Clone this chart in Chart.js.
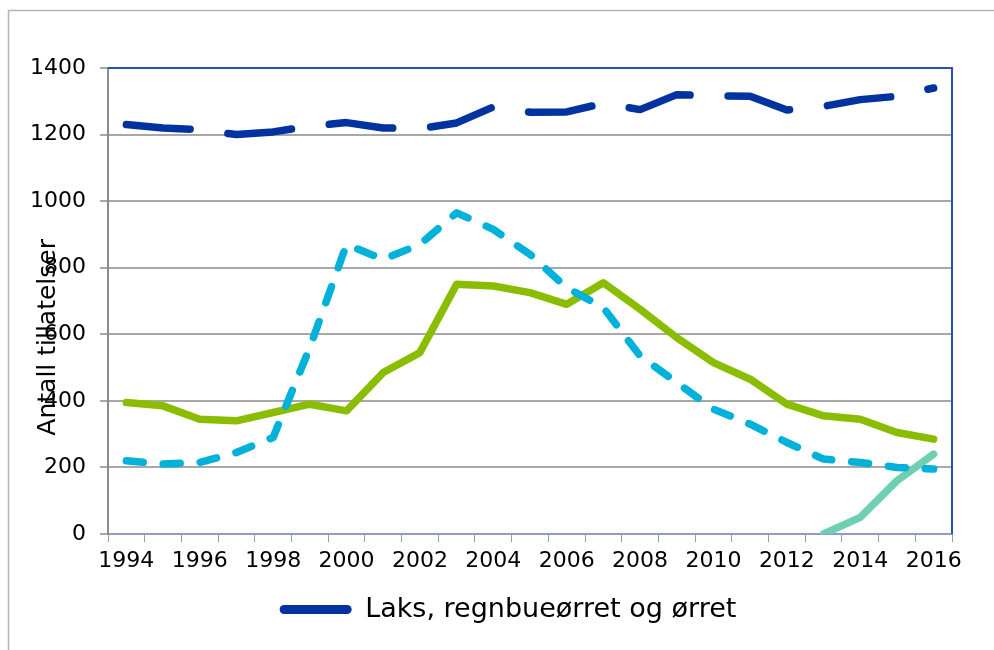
<!DOCTYPE html>
<html>
<head>
<meta charset="utf-8">
<script src="https://cdn.jsdelivr.net/npm/chart.js@4"></script>
<style>
  html, body { margin: 0; padding: 0; background: #fff; }
  #wrap { width: 994px; height: 650px; }
</style>
</head>
<body>
<div id="wrap"><canvas id="graph-tillatelser" width="994" height="650"></canvas></div>
<script>
const years = ['1994','1995','1996','1997','1998','1999','2000','2001','2002','2003','2004','2005',
               '2006','2007','2008','2009','2010','2011','2012','2013','2014','2015','2016'];

const laksRegnbueOrret = [1230, 1220, 1215, 1200, 1208, 1225, 1236, 1220, 1218, 1235, 1283, 1267,
                          1268, 1294, 1275, 1320, 1316, 1315, 1274, 1285, 1305, 1315, 1340];
const serieLysbla = [220, 210, 215, 245, 290, 560, 870, 825, 870, 965, 915, 840,
                     740, 680, 535, 455, 375, 330, 275, 225, 215, 200, 195];
const serieGronn = [395, 385, 345, 340, 365, 390, 370, 485, 545, 750, 745, 725,
                    690, 755, 675, 590, 515, 465, 390, 355, 345, 305, 285];
const serieTurkis = [null, null, null, null, null, null, null, null, null, null, null, null,
                     null, null, null, null, null, null, null, 0, 50, 160, 240];

const yTicks = [0, 200, 400, 600, 800, 1000, 1200, 1400];

// frame around the whole figure, blue border on top/right of the plot, and the y title
const decorations = {
    id: 'decorations',
    afterLayout(chart) {
        // nudge the legend a bit to the right of the canvas centre
        if (chart.legend) chart.legend.left += 64;
    },
    beforeDraw(chart) {
        const ctx = chart.ctx;
        ctx.save();
        ctx.strokeStyle = '#b4b4b4';
        ctx.lineWidth = 1.5;
        ctx.beginPath();
        ctx.moveTo(8.5, chart.height);
        ctx.lineTo(8.5, 10.5);
        ctx.lineTo(chart.width, 10.5);
        ctx.stroke();
        ctx.restore();
    },
    afterDraw(chart) {
        const ctx = chart.ctx;
        const a = chart.chartArea;
        ctx.save();
        ctx.strokeStyle = '#2a4fb8';
        ctx.lineWidth = 2;
        ctx.beginPath();
        ctx.moveTo(a.left, a.top);
        ctx.lineTo(a.right, a.top);
        ctx.lineTo(a.right, a.bottom);
        ctx.stroke();

        ctx.translate(a.left - 60, a.top + (a.bottom - a.top) * 0.578);
        ctx.rotate(-Math.PI / 2);
        ctx.fillStyle = '#000';
        ctx.font = '25px "DejaVu Sans"';
        ctx.textAlign = 'center';
        ctx.textBaseline = 'middle';
        ctx.fillText('Antall tillatelser', 0, 0);
        ctx.restore();
    }
};

const lineBase = {
    borderWidth: 7.5,
    pointRadius: 0,
    tension: 0,
    borderCapStyle: 'round',
    borderJoinStyle: 'round',
    spanGaps: false
};

var ctxTillatelser = document.getElementById('graph-tillatelser').getContext('2d');
var tillatelser = new Chart(ctxTillatelser, {
    type: 'line',
    data: {
        labels: years,
        datasets: [
            Object.assign({}, lineBase, {
                label: 'Laks, regnbueørret og ørret',
                data: laksRegnbueOrret,
                borderColor: '#0033a0',
                backgroundColor: '#0033a0',
                borderDash: [64, 38]
            }),
            Object.assign({}, lineBase, {
                label: 'lysblå',
                data: serieLysbla,
                borderColor: '#00b1da',
                backgroundColor: '#00b1da',
                borderDash: [17, 20]
            }),
            Object.assign({}, lineBase, {
                label: 'grønn',
                data: serieGronn,
                borderColor: '#8abd00',
                backgroundColor: '#8abd00'
            }),
            Object.assign({}, lineBase, {
                label: 'turkis',
                data: serieTurkis,
                borderColor: '#6fcfb2',
                backgroundColor: '#6fcfb2'
            })
        ]
    },
    options: {
        responsive: false,
        animation: false,
        layout: { padding: { left: 0, right: 42, top: 68, bottom: 17 } },
        plugins: {
            tooltip: { enabled: false },
            legend: {
                position: 'bottom',
                labels: {
                    boxWidth: 72,
                    boxHeight: 9,
                    useBorderRadius: true,
                    borderRadius: 4.5,
                    color: '#000',
                    font: { family: 'DejaVu Sans', size: 27 },
                    padding: 10,
                    generateLabels(chart) {
                        const ds = chart.data.datasets[0];
                        return [{
                            text: ds.label,
                            fillStyle: ds.borderColor,
                            strokeStyle: ds.borderColor,
                            lineWidth: 0,
                            lineDash: [],
                            borderRadius: 4.5,
                            datasetIndex: 0
                        }];
                    }
                }
            }
        },
        scales: {
            x: {
                offset: true,
                grid: {
                    offset: true,
                    drawOnChartArea: false,
                    drawTicks: true,
                    tickLength: 8,
                    color: '#9a9a9a'
                },
                border: { color: '#8e9cc6', width: 2 },
                ticks: {
                    color: '#000',
                    font: { family: 'DejaVu Sans', size: 22 },
                    padding: 6,
                    autoSkip: false,
                    maxRotation: 0,
                    callback: function (val, i) { return i % 2 === 0 ? years[i] : ''; }
                },
                afterFit(scale) { scale.height = 52; }
            },
            y: {
                min: 0,
                max: 1400,
                afterBuildTicks(scale) { scale.ticks = yTicks.map(v => ({ value: v })); },
                grid: {
                    color: '#a8a8a8',
                    lineWidth: 2,
                    tickLength: 8
                },
                border: { color: '#8c8c8c', width: 2 },
                ticks: {
                    color: '#000',
                    font: { family: 'DejaVu Sans', size: 22 },
                    padding: 14,
                    callback: function (val) { return String(val); }
                },
                afterFit(scale) { scale.width = 108; }
            }
        }
    },
    plugins: [decorations]
});
</script>
</body>
</html>
